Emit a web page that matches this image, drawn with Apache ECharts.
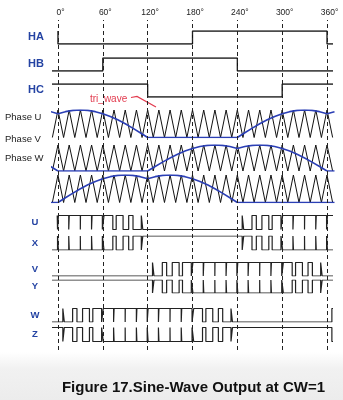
<!DOCTYPE html>
<html><head><meta charset="utf-8">
<script src="https://cdn.jsdelivr.net/npm/echarts@6/dist/echarts.min.js"></script>
<style>html,body{margin:0;padding:0;background:#fff}#c{width:343px;height:400px}</style>
</head><body><div id="c"></div>
<script>
// ---------- data ----------
const degTicks  = [0, 60, 120, 180, 240, 300, 360];
const degLabels = ['0°', '60°', '120°', '180°', '240°', '300°', '360°'];

const hallNames = ['HA', 'HB', 'HC'];
const hallStart = [0, -8, -8];
const hallInit  = [1, 0, 1];
const HA_edges = [0, 180, 360];
const HB_edges = [60, 240];
const HC_edges = [120, 300];

const phaseNames = ['Phase U', 'Phase V', 'Phase W'];
const triAngles = [-7.5,0,7.5,15,22.5,30,37.5,45,52.5,60,67.5,75,82.5,90,97.5,105,112.5,120,127.5,135,142.5,150,157.5,165,172.5,180,187.5,195,202.5,210,217.5,225,232.5,240,247.5,255,262.5,270,277.5,285,292.5,300,307.5,315,322.5,330,337.5,345,352.5,360,367.5];
const triLevels = [0,1,0,1,0,1,0,1,0,1,0,1,0,1,0,1,0,1,0,1,0,1,0,1,0,1,0,1,0,1,0,1,0,1,0,1,0,1,0,1,0,1,0,1,0,1,0,1,0,1,0];

const modAngles = [-10,0,10,20,30,40,50,60,70,80,90,100,110,120,130,140,150,160,170,180,190,200,210,220,230,240,250,260,270,280,290,300,310,320,330,340,350,360,370];
const modU = [0.94,0.866,0.94,0.985,1,0.985,0.94,0.866,0.766,0.643,0.5,0.342,0.174,0,0,0,0,0,0,0,0,0,0,0,0,0,0.174,0.342,0.5,0.643,0.766,0.866,0.94,0.985,1,0.985,0.94,0.866,0.94];
const modV = [0.174,0,0,0,0,0,0,0,0,0,0,0,0,0,0.174,0.342,0.5,0.643,0.766,0.866,0.94,0.985,1,0.985,0.94,0.866,0.94,0.985,1,0.985,0.94,0.866,0.766,0.643,0.5,0.342,0.174,0,0];
const modW = [0,0,0.174,0.342,0.5,0.643,0.766,0.866,0.94,0.985,1,0.985,0.94,0.866,0.94,0.985,1,0.985,0.94,0.866,0.766,0.643,0.5,0.342,0.174,0,0,0,0,0,0,0,0,0,0,0,0,0,0];

const pwmNames = ['U', 'X', 'V', 'Y', 'W', 'Z'];
const U_edges = [-0.6,0.6,14.4,15.1,29.9,30.1,44.9,45.6,59.4,61.6,73.4,77.9,87.1,94.6,100.4,111.5,113.5,246.5,248.5,259.6,265.4,272.9,282.1,286.6,298.4,300.6,314.4,315.1,329.9,330.1,344.9,345.6,359.4,360.6];
const V_edges = [126.5,128.5,139.6,145.4,152.9,162.1,166.6,178.4,180.6,194.4,195.1,209.9,210.1,224.9,225.6,239.4,240.6,254.4,255.1,269.9,270.1,284.9,285.6,299.4,301.6,313.4,317.9,327.1,334.6,340.4,351.5,353.5];
const W_edges = [6.5,8.5,19.6,25.4,32.9,42.1,46.6,58.4,60.6,74.4,75.1,89.9,90.1,104.9,105.6,119.4,120.6,134.4,135.1,149.9,150.1,164.9,165.6,179.4,181.6,193.4,197.9,207.1,214.6,220.4,231.5,233.5,366.5];
const pwmStart = [-1, -8, -8, -8, -8, -8];
const pwmInit  = [1, 0, 0, 1, 0, 1];

const titleText = 'Figure 17.Sine-Wave Output at CW=1';
const annotText = 'tri_wave';

// ---------- layout ----------
const X_MIN = -8, X_MAX = 368;
const FONT = '"Liberation Sans", Arial, sans-serif';
const BLUE_LBL = '#2443a3';
const rowBands = [[31,44],[58,71],[84,97],[110,137.5],[145,171],[175,202.5],
                  [215.5,229.5],[236,250],[262.5,276],[280,293],[308.5,322],[327.5,341.5]];
const phaseLabelY = [117.5, 139, 158];

function stepData(start, init, edges) {
  let lv = init; const d = [[start, lv]];
  for (const e of edges) { d.push([e, lv]); lv = 1 - lv; d.push([e, lv]); }
  d.push([X_MAX, lv]);
  return d;
}

const grid = [], xAxis = [], yAxis = [], series = [];
rowBands.forEach((b, i) => {
  grid.push({left: 52, right: 10, top: b[0], height: b[1] - b[0]});
  xAxis.push({type: 'value', gridIndex: i, min: X_MIN, max: X_MAX, show: false});
  yAxis.push({type: 'value', gridIndex: i, min: 0, max: 1, show: false});
});
const BG = rowBands.length;
grid.push({left: 52, right: 10, top: 20, height: 330});
xAxis.push({type: 'value', gridIndex: BG, min: X_MIN, max: X_MAX, show: false});
yAxis.push({type: 'value', gridIndex: BG, min: 0, max: 1, show: false});

function line(idx, data, color, width) {
  return {type: 'line', xAxisIndex: idx, yAxisIndex: idx, data, symbol: 'none',
          silent: true, animation: false, lineStyle: {color, width}};
}

// dashed degree markers
series.push({
  type: 'line', xAxisIndex: BG, yAxisIndex: BG, data: [], symbol: 'none', silent: true, animation: false,
  markLine: {
    symbol: ['none', 'none'], silent: true, animation: false,
    lineStyle: {type: [4, 3], color: '#222', width: 1},
    label: {show: true, position: 'end', formatter: '{b}', color: '#222', fontSize: 8.5,
            fontFamily: FONT, distance: 3, padding: [0, 0, 0, 5]},
    data: degTicks.map((v, i) => ({xAxis: v, name: degLabels[i]}))
  }
});

// hall signals
const hallEdges = [HA_edges, HB_edges, HC_edges];
hallEdges.forEach((e, i) => series.push(line(i, stepData(hallStart[i], hallInit[i], e), '#111', 1.3)));

// triangle + modulation waves
const mods = [modU, modV, modW];
mods.forEach((m, k) => {
  const idx = 3 + k;
  series.push(line(idx, triAngles.map((a, i) => [a, triLevels[i]]), '#111', 1));
  series.push(line(idx, modAngles.map((a, i) => [a, m[i]]), '#2b3fb5', 1.6));
});

// PWM outputs
const pwmEdges = [U_edges, U_edges, V_edges, V_edges, W_edges, W_edges];
pwmEdges.forEach((e, k) => series.push(line(6 + k, stepData(pwmStart[k], pwmInit[k], e), '#222', 1.2)));

// ---------- text ----------
const graphic = [
  {type: 'rect', left: 0, top: 352, z: -10, silent: true,
   shape: {width: 343, height: 48},
   style: {fill: new echarts.graphic.LinearGradient(0, 0, 0, 1, [
     {offset: 0, color: '#ffffff'}, {offset: 0.35, color: '#f1f1f1'}, {offset: 1, color: '#ececec'}])}}
];
hallNames.forEach((t, i) => graphic.push({type: 'text', x: 36, y: (rowBands[i][0] + rowBands[i][1]) / 2 - 0.5,
  style: {text: t, fill: BLUE_LBL, font: 'bold 11px ' + FONT, textAlign: 'center', textVerticalAlign: 'middle'}}));
phaseNames.forEach((t, i) => graphic.push({type: 'text', x: 5, y: phaseLabelY[i],
  style: {text: t, fill: '#222', font: '9.5px ' + FONT, textAlign: 'left', textVerticalAlign: 'middle'}}));
pwmNames.forEach((t, k) => graphic.push({type: 'text', x: 35, y: (rowBands[6 + k][0] + rowBands[6 + k][1]) / 2,
  style: {text: t, fill: BLUE_LBL, font: 'bold 9.5px ' + FONT, textAlign: 'center', textVerticalAlign: 'middle'}}));
graphic.push({type: 'text', x: 90, y: 99.5,
  style: {text: annotText, fill: '#e23a4e', font: '10px ' + FONT, textAlign: 'left', textVerticalAlign: 'middle'}});
graphic.push({type: 'polyline', shape: {points: [[131, 97.5], [137, 96.5], [156, 107]]},
  style: {stroke: '#e23a4e', lineWidth: 1.2, fill: null}});
graphic.push({type: 'text', x: 193.5, y: 388,
  style: {text: titleText, fill: '#111', font: 'bold 15px ' + FONT, textAlign: 'center', textVerticalAlign: 'middle'}});

const chart = echarts.init(document.getElementById('c'), null, {renderer: 'canvas'});
chart.setOption({backgroundColor: '#fff', animation: false, grid, xAxis, yAxis, series, graphic});
</script></body></html>
